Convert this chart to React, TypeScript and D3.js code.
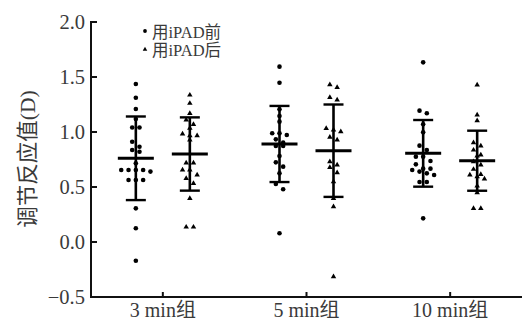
import React from "react";
import * as d3 from "d3";

const categories = ["3 min组", "5 min组", "10 min组"];
const seriesNames = ["用iPAD前", "用iPAD后"];
const yTicks = [-0.5, 0.0, 0.5, 1.0, 1.5, 2.0];

const before3 = [1.436, 1.312, 1.209, 1.118, 1.041, 1.041, 0.912, 0.866, 0.836, 0.821, 0.715, 0.655, 0.655, 0.655, 0.655, 0.64, 0.564, 0.564, 0.564, 0.306, 0.125, -0.17];
const after3 = [1.336, 1.261, 1.17, 1.109, 1.07, 1.034, 0.982, 0.967, 0.967, 0.927, 0.718, 0.718, 0.655, 0.655, 0.609, 0.579, 0.533, 0.397, 0.136, 0.136];
const before5 = [1.594, 1.448, 1.206, 1.145, 1.094, 0.988, 0.973, 0.988, 0.933, 0.903, 0.873, 0.873, 0.782, 0.724, 0.685, 0.624, 0.527, 0.479, 0.079];
const after5 = [1.43, 1.406, 1.315, 1.291, 1.033, 1.018, 1.003, 0.952, 0.927, 0.73, 0.7, 0.679, 0.63, 0.548, 0.397, 0.321, -0.315];
const before10 = [1.633, 1.194, 1.17, 1.07, 0.997, 0.876, 0.836, 0.776, 0.776, 0.736, 0.706, 0.667, 0.667, 0.655, 0.64, 0.624, 0.609, 0.545, 0.545, 0.215];
const after10 = [1.427, 1.155, 1.103, 0.903, 0.873, 0.836, 0.791, 0.782, 0.73, 0.7, 0.661, 0.615, 0.609, 0.594, 0.573, 0.509, 0.448, 0.306, 0.306];

const meansBefore = [0.761, 0.891, 0.806];
const meansAfter = [0.8, 0.83, 0.739];
const sdBefore = [0.38, 0.346, 0.303];
const sdAfter = [0.333, 0.42, 0.273];

const W = 523;
const H = 326;
const left = 91;
const right = 522;
const top = 22;
const bottom = 297;
const FONT = "'Liberation Serif', 'Times New Roman', 'Noto Sans CJK SC', serif";
const TEXT = "#3a3a3a";

const x = d3.scalePoint<string>().domain(categories).range([left, right]).padding(0.5);
const sub = d3.scalePoint<string>().domain(seriesNames).range([-27, 27]);
const y = d3.scaleLinear().domain([-0.5, 2.0]).range([bottom, top]);

function swarm(values: number[]) {
  const sorted = [...values].sort((a, b) => b - a);
  const out: { v: number; dx: number }[] = [];
  let i = 0;
  while (i < sorted.length) {
    const y0 = y(sorted[i]);
    let j = i;
    while (j + 1 < sorted.length && y(sorted[j + 1]) - y0 < 5.5) j++;
    const n = j - i + 1;
    for (let k = 0; k < n; k++) {
      out.push({ v: sorted[i + k], dx: (k - (n - 1) / 2) * 7.3 });
    }
    i = j + 1;
  }
  return out;
}

const triPath = d3.symbol().type(d3.symbolTriangle).size(13)() as string;
const triLegend = d3.symbol().type(d3.symbolTriangle).size(9)() as string;

export default function App() {
  const groups = categories.map((c, ci) => [
    { cat: c, s: seriesNames[0], vals: [before3, before5, before10][ci], mean: meansBefore[ci], sd: sdBefore[ci] },
    { cat: c, s: seriesNames[1], vals: [after3, after5, after10][ci], mean: meansAfter[ci], sd: sdAfter[ci] },
  ]).flat();

  return (
    <svg width={W} height={H} style={{ position: "absolute", left: 0, top: 0, background: "#fff" }} fontFamily={FONT}>
      {/* axes */}
      <line x1={left} x2={left} y1={top - 1} y2={bottom + 1} stroke="#111" strokeWidth={2} />
      <line x1={left - 1} x2={right} y1={bottom} y2={bottom} stroke="#111" strokeWidth={2} />
      {yTicks.map((t) => (
        <g key={t}>
          <line x1={left} x2={left + 6} y1={y(t)} y2={y(t)} stroke="#111" strokeWidth={2} />
          <text x={85} y={y(t)} dy="0.35em" textAnchor="end" fontSize={20.5} fill={TEXT}>
            {t < 0 ? "\u2212" + Math.abs(t).toFixed(1) : t.toFixed(1)}
          </text>
        </g>
      ))}
      {categories.map((c) => (
        <g key={c}>
          <line x1={x(c)} x2={x(c)} y1={bottom} y2={bottom - 5} stroke="#111" strokeWidth={2} />
          <text x={x(c)} y={317} textAnchor="middle" fontSize={20} fill={TEXT}>{c}</text>
        </g>
      ))}
      <text transform={`translate(27,${(top + bottom) / 2 - 0.5}) rotate(-90)`} textAnchor="middle" dy="0.35em" fontSize={21.5} fill={TEXT}>
        调节反应值(D)
      </text>

      {/* groups */}
      {groups.map((g, gi) => {
        const cx = (x(g.cat) as number) + (sub(g.s) as number);
        const pts = swarm(g.vals);
        const hi = y(g.mean + g.sd);
        const lo = y(g.mean - g.sd);
        return (
          <g key={gi}>
            <line x1={cx} x2={cx} y1={hi} y2={lo} stroke="#000" strokeWidth={2.6} />
            <line x1={cx - 10} x2={cx + 10} y1={hi} y2={hi} stroke="#000" strokeWidth={2.4} />
            <line x1={cx - 10} x2={cx + 10} y1={lo} y2={lo} stroke="#000" strokeWidth={2.4} />
            <line x1={cx - 18} x2={cx + 18} y1={y(g.mean)} y2={y(g.mean)} stroke="#000" strokeWidth={3} />
            {pts.map((p, pi) =>
              g.s === seriesNames[0] ? (
                <circle key={pi} cx={cx + p.dx} cy={y(p.v)} r={2.3} fill="#000" />
              ) : (
                <path key={pi} d={triPath} transform={`translate(${cx + p.dx},${y(p.v)})`} fill="#000" />
              )
            )}
          </g>
        );
      })}

      {/* legend */}
      <circle cx={145} cy={31} r={1.9} fill="#000" />
      <text x={152} y={33} dy="0.3em" fontSize={16.5} fill={TEXT}>{seriesNames[0]}</text>
      <path d={triLegend} transform="translate(145,49.5)" fill="#000" />
      <text x={152} y={51} dy="0.3em" fontSize={16.5} fill={TEXT}>{seriesNames[1]}</text>
    </svg>
  );
}
